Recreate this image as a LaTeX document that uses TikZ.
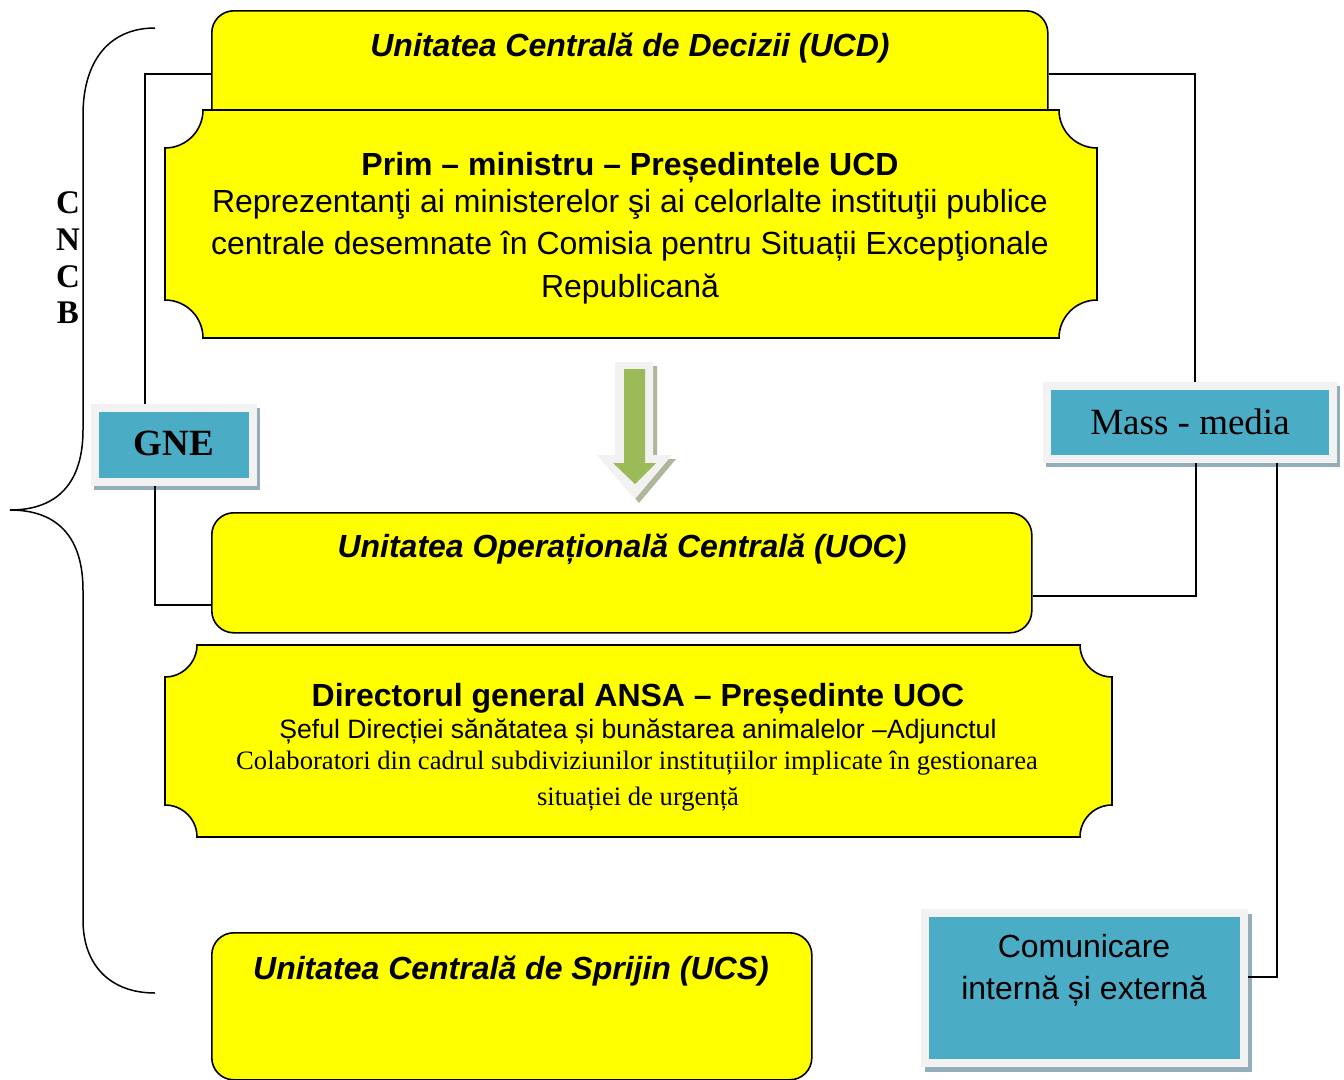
\documentclass[tikz,border=0pt]{standalone}
\usepackage{fontspec}
\setmainfont{Liberation Sans}
\newfontfamily\tnr{Liberation Serif}
\usetikzlibrary{backgrounds,calc}
\definecolor{yfill}{HTML}{FFFF00}
\definecolor{tealc}{HTML}{4BACC6}
\definecolor{lightb}{HTML}{F2F2F2}
\definecolor{shadc}{HTML}{93AEB8}
\definecolor{arrg}{HTML}{9BBB59}
\definecolor{arrsh}{HTML}{AEB79C}
\tikzset{
  ybox/.style={draw=black, line width=1.6pt, fill=yfill, rounded corners=22pt, anchor=north west},
  plq/.style={draw=black, line width=1.6pt, fill=yfill},
  tbox/.style={fill=tealc, draw=lightb, line width=8pt, inner sep=0pt},
  lnk/.style={draw=black, line width=1.5pt},
  txt/.style={inner sep=0pt, anchor=base},
  ttl/.style={txt, font=\fontsize{32}{36}\selectfont\bfseries\itshape},
  lett/.style={txt, font=\tnr\fontsize{33}{37}\selectfont\bfseries},
}
\begin{document}
\begin{tikzpicture}[x=1pt,y=-1pt]
\useasboundingbox (0,0) rectangle (1344,1079);

% brace
\draw[line width=1.5pt] (155,28) .. controls (110,28) and (83,60) .. (83,115) -- (83,430)
  .. controls (83,480) and (60,510) .. (10,510)
  .. controls (60,510) and (83,540) .. (83,590) -- (83,920)
  .. controls (83,965) and (110,993) .. (155,993);
\node[lett] (c1) at (68,213) {C};
\node[lett] (n1) at (68,250) {N};
\node[lett] (c2) at (68,287) {C};
\node[lett] (b1) at (68,323) {B};

% UCD
\node[ybox, minimum width=836pt, minimum height=126pt] (ucd) at (211,10) {};
\node[ttl] (tucd) at (630,56.5) {Unitatea Centrală de Decizii (UCD)};

% plaque 1
\draw[plq] (203,110) -- (1059,110) .. controls (1059,131) and (1076,148) .. (1097,148)
  -- (1097,300) .. controls (1076,300) and (1059,317) .. (1059,338)
  -- (203,338) .. controls (203,317) and (186,300) .. (165,300)
  -- (165,148) .. controls (186,148) and (203,131) .. (203,110) -- cycle;
\node[txt, font=\fontsize{32}{36}\selectfont\bfseries] (p1) at (630,175.5) {Prim – ministru – Președintele UCD};
\node[txt, font=\fontsize{32}{36}\selectfont] (p2) at (630,212.5) {Reprezentanţi ai ministerelor şi ai celorlalte instituţii publice};
\node[txt, font=\fontsize{32}{36}\selectfont] (p3) at (630,254.5) {centrale desemnate în Comisia pentru Situații Excepţionale};
\node[txt, font=\fontsize{32}{36}\selectfont] (p4) at (630,297.5) {Republicană};

% arrow
\fill[arrsh] (619,366) -- (657,366) -- (657,459) -- (676,459) -- (639,503) -- (601,459) -- (619,459) -- cycle;
\fill[lightb] (615,362) -- (653,362) -- (653,455) -- (672,455) -- (635,499) -- (597,455) -- (615,455) -- cycle;
\fill[arrg] (624,369) -- (645,369) -- (645,463) -- (656,463) -- (635,484) -- (613,463) -- (624,463) -- cycle;

% UOC
\node[ybox, minimum width=820pt, minimum height=120pt] (uoc) at (211,512) {};
\node[ttl] (tuoc) at (622,557.5) {Unitatea Operațională Centrală (UOC)};

% plaque 2
\draw[plq] (197,645) -- (1080,645) .. controls (1080,662.3) and (1094.3,677) .. (1112,677)
  -- (1112,805) .. controls (1094.3,805) and (1080,819.3) .. (1080,837)
  -- (197,837) .. controls (197,819.3) and (182.7,805) .. (165,805)
  -- (165,677) .. controls (182.7,677) and (197,662.3) .. (197,645) -- cycle;
\node[txt, font=\fontsize{32}{36}\selectfont\bfseries] (d1) at (638,706.5) {Directorul general ANSA – Președinte UOC};
\node[txt, font=\fontsize{26.6}{30}\selectfont] (d2) at (638,738.5) {Șeful Direcției sănătatea și bunăstarea animalelor –Adjunctul};
\node[txt, font=\tnr\fontsize{26.6}{30}\selectfont] (d3) at (637,769) {Colaboratori din cadrul subdiviziunilor instituțiilor implicate în gestionarea};
\node[txt, font=\tnr\fontsize{26.6}{30}\selectfont] (d4) at (638,805) {situației de urgență};

% UCS
\node[ybox, minimum width=600pt, minimum height=147pt] (ucs) at (211,932) {};
\node[ttl] (tucs) at (511,979.5) {Unitatea Centrală de Sprijin (UCS)};

% teal boxes
\node[tbox, minimum width=158pt, minimum height=74pt] (gne) at (174,445) {};
\node[txt, font=\tnr\fontsize{37}{42}\selectfont\bfseries] (tgne) at (174,455.5) {GNE};
\node[tbox, minimum width=286pt, minimum height=73pt] (mm) at (1190,422.5) {};
\node[txt, font=\tnr\fontsize{37}{42}\selectfont] (tmm) at (1190,434.5) {Mass - media};
\node[tbox, minimum width=319pt, minimum height=150pt] (com) at (1084.5,988) {};
\node[txt, font=\fontsize{32}{36}\selectfont] (tc1) at (1084,957.5) {Comunicare};
\node[txt, font=\fontsize{32}{36}\selectfont] (tc2) at (1084,999.5) {internă și externă};

\begin{scope}[on background layer]
\fill[shadc] ([xshift=3pt,yshift=-4pt]gne.north west) rectangle ([xshift=3pt,yshift=-4pt]gne.south east);
\fill[shadc] ([xshift=3pt,yshift=-4pt]mm.north west) rectangle ([xshift=3pt,yshift=-4pt]mm.south east);
\fill[shadc] ([xshift=4pt,yshift=-5pt]com.north west) rectangle ([xshift=4pt,yshift=-5pt]com.south east);
\end{scope}

% connectors
\draw[lnk] (ucd.west) -| ([xshift=-29pt]gne.north);
\draw[lnk] ([xshift=-19pt]gne.south) |- ([yshift=-32pt]uoc.west);
\draw[lnk] (ucd.east) -| ([xshift=5pt]mm.north);
\draw[lnk] ([xshift=6pt]mm.south) |- ([yshift=-23pt]uoc.east);
\draw[lnk] ([xshift=87pt]mm.south) |- ([yshift=11pt]com.east);
\end{tikzpicture}
\end{document}
